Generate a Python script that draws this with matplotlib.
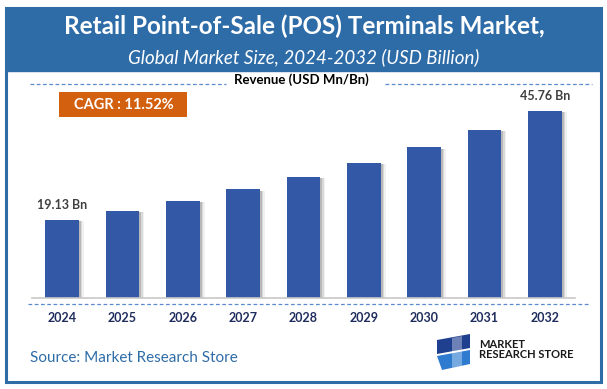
import matplotlib
matplotlib.use("Agg")
import matplotlib.pyplot as plt
from matplotlib.patches import Rectangle, Polygon

# --- dati del grafico ---
years = ["2024", "2025", "2026", "2027", "2028", "2029", "2030", "2031", "2032"]
revenue = [19.13, 21.33, 23.79, 26.53, 29.59, 33.00, 36.80, 41.04, 45.76]
label_first = "19.13 Bn"
label_last = "45.76 Bn"
cagr_text = "CAGR : 11.52%"

title = "Retail Point-of-Sale (POS) Terminals Market,"
subtitle = "Global Market Size, 2024-2032 (USD Billion)"
axis_note = "Revenue (USD Mn/Bn)"
source = "Source: Market Research Store"

# --- colori ---
HEADER = "#2E6CA8"
BAR = "#3358A6"
ORANGE = "#D2600F"
NAVY = "#1F2D5C"

plt.rcParams["font.family"] = ["Lato", "DejaVu Sans"]

W, H = 607, 389
fig = plt.figure(figsize=(W / 100, H / 100), dpi=100)
fig.patch.set_facecolor("white")

# overlay in coordinate pixel per le decorazioni
bg = fig.add_axes([0, 0, 1, 1])
bg.set_xlim(0, W)
bg.set_ylim(H, 0)
bg.axis("off")

# cornice e intestazione
bg.add_patch(Rectangle((6, 8), 595, 374, fill=False, edgecolor=HEADER, lw=2.2))
bg.add_patch(Rectangle((6, 8), 595, 63, facecolor=HEADER, edgecolor=HEADER))
bg.text(W / 2 + 1, 26, title, color="white", fontsize=17.5, fontweight="bold",
        ha="center", va="center")
bg.text(W / 2, 57, subtitle, color="white", fontsize=13.5, style="italic",
        ha="center", va="center")

# linea tratteggiata con titolo asse
bg.plot([30, 226], [84, 84], ls=(0, (3, 2)), color="#5B8AD0", lw=0.9)
bg.plot([385, 592], [84, 84], ls=(0, (3, 2)), color="#5B8AD0", lw=0.9)
bg.text(301, 80, axis_note, fontsize=9.5, fontweight="bold", color="black",
        ha="center", va="center")

# box CAGR
bg.add_patch(Rectangle((59, 92), 128, 25, facecolor=ORANGE, edgecolor="none"))
bg.text(124, 104.5, cagr_text, color="white", fontsize=10.5, fontweight="bold",
        ha="center", va="center")

# tratteggio sotto l'asse
bg.plot([28, 590], [304, 304], ls=(0, (3, 2)), color="#5B8AD0", lw=0.9)

# fonte e logo
bg.text(30, 358, source, color=HEADER, fontsize=11, ha="left", va="center")
bg.add_patch(Polygon([[437, 340], [470, 334], [470, 348], [437, 354]],
                     closed=True, facecolor="#1F3F8F"))
bg.add_patch(Polygon([[437, 356], [470, 350], [470, 364], [442, 370]],
                     closed=True, facecolor="#2E7BD0"))
bg.add_patch(Polygon([[452, 338], [462, 336], [462, 366], [452, 368]],
                     closed=True, facecolor="white", alpha=0.35))
bg.text(479, 345, "MARKET", fontsize=8, fontweight="bold", color="#1A1A1A",
        ha="left", va="center")
bg.text(479, 355, "RESEARCH STORE", fontsize=8, fontweight="bold", color="#1A1A1A",
        ha="left", va="center")

# --- assi delle barre ---
x0, x1, ytop, ybase = 32, 575, 84, 298
ax = fig.add_axes([x0 / W, 1 - ybase / H, (x1 - x0) / W, (ybase - ytop) / H])
ax.set_facecolor("none")
xs = list(range(len(years)))

# ombre delle barre
for k, a in enumerate([0.25, 0.15, 0.08]):
    ax.bar([x + 0.03 + 0.025 * k for x in xs], [v - 0.3 for v in revenue],
           width=0.56, color="#555555", alpha=a, zorder=1, linewidth=0)
ax.bar(xs, revenue, width=0.56, color=BAR, zorder=2, linewidth=0)

ax.set_xlim(-0.5, len(years) - 0.5)
ax.set_ylim(0, 52.3)
ax.set_yticks([])
ax.set_xticks(xs)
ax.set_xticklabels(years, fontsize=9, fontweight="bold", color=NAVY)
ax.tick_params(axis="x", length=0, pad=10)
for s in ["top", "right", "left"]:
    ax.spines[s].set_visible(False)
ax.spines["bottom"].set_color("#C8C8C8")
ax.spines["bottom"].set_linewidth(1.2)

ax.text(xs[0], revenue[0] + 2.2, label_first, ha="center", va="bottom",
        fontsize=9, fontweight="bold", color="#404040")
ax.text(xs[-1], revenue[-1] + 2.2, label_last, ha="center", va="bottom",
        fontsize=9, fontweight="bold", color="#404040")

fig.savefig("out.png", dpi=100)
